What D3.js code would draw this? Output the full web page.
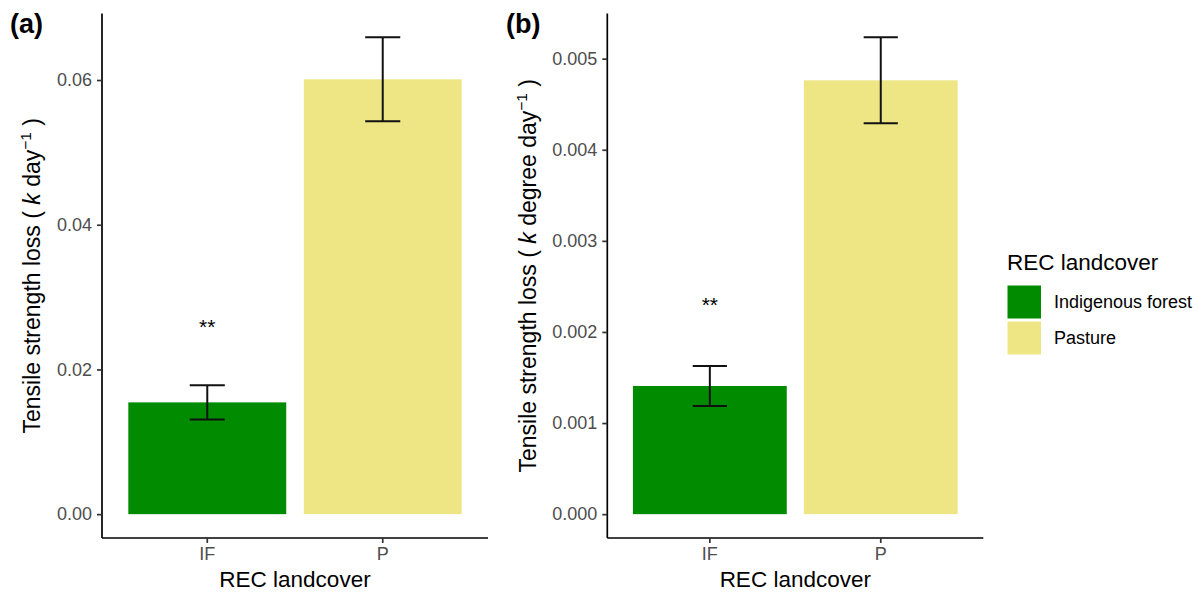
<!DOCTYPE html>
<html>
<head>
<meta charset="utf-8">
<script src="https://cdn.jsdelivr.net/npm/d3@7"></script>
<style>
  html, body { margin: 0; padding: 0; background: #fff; }
  svg { display: block; font-family: "Liberation Sans", Arial, Helvetica, sans-serif; }
</style>
</head>
<body>
<svg id="chart" width="1204" height="594"></svg>
<script>
// Landcover classes on the x axis
const categories = ["IF", "P"];
const legendLabels = ["Indigenous forest", "Pasture"];
const fills = ["#008B00", "#EEE685"];

// (a) tensile strength loss per day: mean and standard error
const kDay = [0.01545, 0.0601];
const kDaySE = [0.00237, 0.0058];
const kDaySig = ["**", ""];
const kDaySigY = [0.0265, null];
const kDayTicks = [0, 0.02, 0.04, 0.06];
const kDayTickLabels = ["0.00", "0.02", "0.04", "0.06"];

// (b) tensile strength loss per degree day: mean and standard error
const kDegreeDay = [0.001407, 0.004762];
const kDegreeDaySE = [0.00022, 0.000472];
const kDegreeDaySig = ["**", ""];
const kDegreeDaySigY = [0.002346, null];
const kDegreeDayTicks = [0, 0.001, 0.002, 0.003, 0.004, 0.005];
const kDegreeDayTickLabels = ["0.000", "0.001", "0.002", "0.003", "0.004", "0.005"];

const svg = d3.select("#chart");
svg.append("rect").attr("width", 1204).attr("height", 594).attr("fill", "#fff");

const plotTop = 13.5, plotBottom = 538;
const tickColor = "#333333", labelColor = "#4D4D4D";

function panel(opts) {
  const { left, right, values, se, sig, sigY, ticks, tickLabels, tag, tagX, titleX, unit } = opts;
  const g = svg.append("g");
  const maxV = d3.max(values, (v, i) => v + se[i]);
  const pad = maxV * 0.05;
  const y = d3.scaleLinear().domain([-pad, maxV + pad]).range([plotBottom, plotTop]);
  const x = d3.scaleBand().domain(categories).range([left, right])
    .paddingInner(0.1).paddingOuter(0.15);

  // bars
  g.selectAll("rect.bar").data(categories).join("rect")
    .attr("class", "bar")
    .attr("x", d => x(d))
    .attr("width", x.bandwidth())
    .attr("y", (d, i) => y(values[i]))
    .attr("height", (d, i) => y(0) - y(values[i]))
    .attr("fill", (d, i) => fills[i]);

  // error bars
  const capW = x.step() * 0.2;
  const cx = d => x(d) + x.bandwidth() / 2;
  const eb = g.selectAll("g.err").data(categories).join("g").attr("class", "err")
    .attr("stroke", "#111").attr("stroke-width", 2).attr("fill", "none");
  eb.append("line")
    .attr("x1", cx).attr("x2", cx)
    .attr("y1", (d, i) => y(values[i] + se[i])).attr("y2", (d, i) => y(values[i] - se[i]));
  eb.append("line")
    .attr("x1", d => cx(d) - capW / 2).attr("x2", d => cx(d) + capW / 2)
    .attr("y1", (d, i) => y(values[i] + se[i])).attr("y2", (d, i) => y(values[i] + se[i]));
  eb.append("line")
    .attr("x1", d => cx(d) - capW / 2).attr("x2", d => cx(d) + capW / 2)
    .attr("y1", (d, i) => y(values[i] - se[i])).attr("y2", (d, i) => y(values[i] - se[i]));

  // significance stars
  g.selectAll("text.sig").data(categories.filter((d, i) => sig[i]))
    .join("text").attr("class", "sig")
    .attr("x", cx)
    .attr("y", d => y(sigY[categories.indexOf(d)]))
    .attr("dy", "0.57em")
    .attr("text-anchor", "middle")
    .attr("font-size", 21).attr("fill", "#000")
    .text(d => sig[categories.indexOf(d)]);

  // y axis
  const yAxis = d3.axisLeft(y).tickValues(ticks).tickSize(5).tickPadding(5)
    .tickFormat((d, i) => tickLabels[i]);
  const ya = g.append("g").attr("transform", `translate(${left},0)`).call(yAxis);
  ya.select(".domain").attr("d", `M0,${plotTop}V${plotBottom}`).attr("stroke", "#000").attr("stroke-width", 1.7);
  ya.selectAll(".tick line").attr("stroke", tickColor).attr("stroke-width", 1.7);
  ya.selectAll(".tick text").attr("fill", labelColor).attr("font-size", 18)
    .attr("font-family", "Liberation Sans, Arial, sans-serif");

  // x axis
  const xAxis = d3.axisBottom(x).tickSize(5).tickPadding(4);
  const xa = g.append("g").attr("transform", `translate(0,${plotBottom})`).call(xAxis);
  xa.select(".domain").attr("d", `M${left},0H${right}`).attr("stroke", "#000").attr("stroke-width", 1.7);
  xa.selectAll(".tick line").attr("stroke", tickColor).attr("stroke-width", 1.7);
  xa.selectAll(".tick text").attr("fill", labelColor).attr("font-size", 18)
    .attr("font-family", "Liberation Sans, Arial, sans-serif");

  // axis titles
  g.append("text")
    .attr("x", (left + right) / 2).attr("y", 587)
    .attr("text-anchor", "middle").attr("font-size", 22.5).attr("fill", "#000")
    .text("REC landcover");

  const yt = g.append("text")
    .attr("transform", `translate(${titleX},${(plotTop + plotBottom) / 2}) rotate(-90)`)
    .attr("text-anchor", "middle").attr("font-size", 23).attr("fill", "#000")
    .attr("xml:space", "preserve").style("white-space", "pre");
  yt.append("tspan").text("Tensile strength loss ( ");
  yt.append("tspan").attr("font-style", "italic").text("k");
  yt.append("tspan").text(" " + unit);
  yt.append("tspan").attr("font-size", 15.5).attr("dy", "-9").text("\u22121");
  yt.append("tspan").attr("dy", "9").text(" )");

  // panel tag
  svg.append("text").attr("x", tagX).attr("y", 33)
    .attr("font-size", 27).attr("font-weight", "bold").attr("fill", "#000")
    .text(tag);
}

panel({ left: 102, right: 488, values: kDay, se: kDaySE, sig: kDaySig, sigY: kDaySigY,
  ticks: kDayTicks, tickLabels: kDayTickLabels, tag: "(a)", tagX: 10, titleX: 40, unit: "day" });
panel({ left: 607.3, right: 983.3, values: kDegreeDay, se: kDegreeDaySE, sig: kDegreeDaySig, sigY: kDegreeDaySigY,
  ticks: kDegreeDayTicks, tickLabels: kDegreeDayTickLabels, tag: "(b)", tagX: 506, titleX: 536, unit: "degree day" });

// legend
const lg = svg.append("g");
lg.append("text").attr("x", 1007).attr("y", 270).attr("font-size", 22.5).attr("fill", "#000")
  .text("REC landcover");
lg.selectAll("rect").data(legendLabels).join("rect")
  .attr("x", 1007.5).attr("y", (d, i) => 285.5 + i * 36)
  .attr("width", 33.5).attr("height", 33)
  .attr("fill", (d, i) => fills[i]);
lg.selectAll("text.lab").data(legendLabels).join("text").attr("class", "lab")
  .attr("x", 1054).attr("y", (d, i) => 308 + i * 35.5)
  .attr("font-size", 18).attr("fill", "#000")
  .text(d => d);
</script>
</body>
</html>
